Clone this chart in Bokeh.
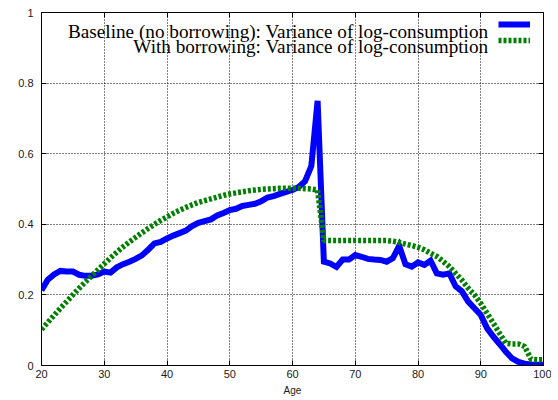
from bokeh.plotting import figure
from bokeh.models import Range1d, FixedTicker, LinearAxis, Legend, LegendItem, Label
from bokeh.core.properties import value
from bokeh.embed import file_html
from bokeh.resources import INLINE

# ---------------- data ----------------
ages = list(range(20, 101))

baseline_var = [
    0.213, 0.243, 0.258, 0.268, 0.266, 0.266, 0.257, 0.254, 0.254, 0.258,  # 20-29
    0.266, 0.263, 0.278, 0.287, 0.294, 0.302, 0.312, 0.328, 0.346, 0.350,  # 30-39
    0.360, 0.368, 0.375, 0.382, 0.395, 0.404, 0.409, 0.414, 0.425, 0.432,  # 40-49
    0.440, 0.444, 0.452, 0.455, 0.458, 0.465, 0.476, 0.480, 0.486, 0.492,  # 50-59
    0.497, 0.506, 0.522, 0.565, 0.750, 0.294, 0.289, 0.279, 0.300, 0.300,  # 60-69
    0.313, 0.308, 0.302, 0.300, 0.299, 0.294, 0.304, 0.339, 0.287, 0.280,  # 70-79
    0.292, 0.285, 0.297, 0.261, 0.257, 0.261, 0.224, 0.210, 0.181, 0.162,  # 80-89
    0.143, 0.106, 0.082, 0.061, 0.039, 0.020, 0.010, 0.005, 0.003, 0.002,  # 90-99
    0.002,                                                                 # 100
]

borrowing_var = [
    0.102, 0.122, 0.142, 0.162, 0.181, 0.200, 0.219, 0.237, 0.254, 0.271,  # 20-29
    0.288, 0.305, 0.321, 0.336, 0.350, 0.363, 0.376, 0.388, 0.400, 0.411,  # 30-39
    0.421, 0.431, 0.440, 0.448, 0.455, 0.462, 0.467, 0.472, 0.477, 0.482,  # 40-49
    0.486, 0.489, 0.492, 0.495, 0.497, 0.499, 0.500, 0.501, 0.502, 0.502,  # 50-59
    0.502, 0.502, 0.501, 0.500, 0.497, 0.354, 0.354, 0.354, 0.354, 0.354,  # 60-69
    0.354, 0.354, 0.354, 0.354, 0.354, 0.354, 0.352, 0.349, 0.344, 0.340,  # 70-79
    0.335, 0.328, 0.318, 0.309, 0.295, 0.280, 0.261, 0.242, 0.219, 0.200,  # 80-89
    0.176, 0.148, 0.120, 0.091, 0.063, 0.061, 0.061, 0.054, 0.018, 0.016,  # 90-99
    0.016,                                                                 # 100
]

series_labels = [
    "Baseline (no borrowing): Variance of log-consumption",
    "With borrowing: Variance of log-consumption",
]

x_ticks = [20, 30, 40, 50, 60, 70, 80, 90, 100]
x_tick_labels = ["20", "30", "40", "50", "60", "70", "80", "90", "100"]
y_ticks = [0, 0.2, 0.4, 0.6, 0.8, 1]
y_tick_labels = ["0", "0.2", "0.4", "0.6", "0.8", "1"]
x_axis_label = "Age"

# ---------------- figure ----------------
p = figure(
    width=551, height=398,
    output_backend="svg", toolbar_location=None,
    x_range=Range1d(20, 100), y_range=Range1d(0, 1),
    min_border_left=41, min_border_right=8, min_border_top=12, min_border_bottom=32,
    background_fill_color="white", border_fill_color="white",
)
p.outline_line_color = "black"
p.outline_line_width = 1
p.outline_line_alpha = 1

xt = FixedTicker(ticks=x_ticks)
yt = FixedTicker(ticks=y_ticks)

tick_font = "Liberation Sans"

def style_axis(ax, show_labels):
    ax.axis_line_color = "black"
    ax.axis_line_width = 1
    ax.major_tick_in = 5
    ax.major_tick_out = 0
    ax.major_tick_line_color = "black"
    ax.minor_tick_line_color = None
    if show_labels:
        ax.major_label_text_font = tick_font
        ax.major_label_text_font_size = "11px"
        ax.major_label_text_color = "#1a1a1a"
    else:
        ax.major_label_text_font_size = "0px"
        ax.major_label_text_alpha = 0
        ax.major_label_standoff = 0

xa = p.xaxis[0]
xa.ticker = xt
xa.major_label_overrides = dict(zip(x_ticks, x_tick_labels))
style_axis(xa, True)
xa.major_label_standoff = 4
xa.axis_label = x_axis_label
xa.axis_label_text_font = tick_font
xa.axis_label_text_font_size = "10px"
xa.axis_label_text_font_style = "normal"
xa.axis_label_text_color = "#1a1a1a"
xa.axis_label_standoff = 4

ya = p.yaxis[0]
ya.ticker = yt
ya.major_label_overrides = dict(zip(y_ticks, y_tick_labels))
style_axis(ya, True)
ya.major_label_standoff = 8

top_ax = LinearAxis(ticker=FixedTicker(ticks=x_ticks))
style_axis(top_ax, False)
p.add_layout(top_ax, "above")
right_ax = LinearAxis(ticker=FixedTicker(ticks=y_ticks))
style_axis(right_ax, False)
p.add_layout(right_ax, "right")

for g, t in ((p.xgrid[0], xt), (p.ygrid[0], yt)):
    g.ticker = t
    g.grid_line_color = "#000000"
    g.grid_line_alpha = 1.0
    g.grid_line_width = 1
    g.grid_line_dash = "1 2"

# ---------------- lines ----------------
r_blue = p.line(ages, baseline_var, line_color="#0000ff", line_width=6, line_join="miter")
r_green = p.line(ages, borrowing_var, line_color="#008000", line_width=5.5,
                 line_dash="3 2", line_cap="butt")

# ---------------- key (text right-aligned, sample on the right) ----------------
legend = Legend(
    items=[LegendItem(label=value(""), renderers=[r_blue]),
           LegendItem(label=value(""), renderers=[r_green])],
    location=(457, 317), orientation="vertical",
    glyph_width=32, glyph_height=16, label_width=0, label_height=16,
    label_standoff=0, padding=0, margin=0, spacing=0,
    border_line_alpha=0, background_fill_alpha=0, label_text_font_size="1px",
)
p.add_layout(legend)

for txt, yy in zip(series_labels, (0.945, 0.905)):
    p.add_layout(Label(x=91.23, y=yy, text=txt, text_align="right",
                       text_baseline="alphabetic", text_font="Liberation Serif",
                       text_font_size="19.2px", text_color="black"))

open("out.html", "w").write(file_html(p, INLINE))
